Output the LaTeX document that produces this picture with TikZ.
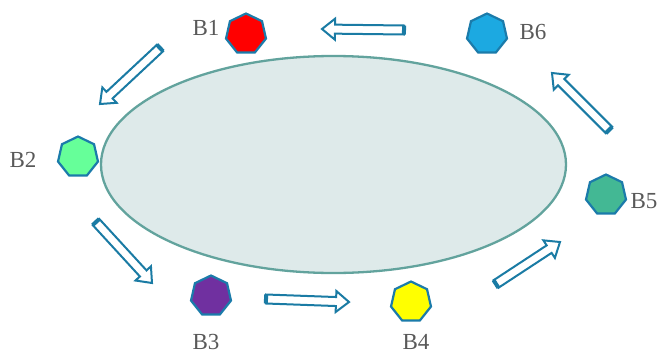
\documentclass[tikz,border=0pt]{standalone}
\usepackage{fontspec}
\setmainfont{Liberation Serif}
\usetikzlibrary{shapes.geometric,calc}
\definecolor{rimblue}{HTML}{1B7BAA}
\definecolor{arrowblue}{HTML}{1A7BA4}
\definecolor{poolfill}{HTML}{DEEAEA}
\definecolor{poolline}{HTML}{62A39D}
\definecolor{labelgray}{HTML}{595959}
\definecolor{bred}{HTML}{FF0000}
\definecolor{bgreen}{HTML}{66FF99}
\definecolor{bpurple}{HTML}{7030A0}
\definecolor{byellow}{HTML}{FFFF00}
\definecolor{bteal}{HTML}{43B894}
\definecolor{bblue}{HTML}{1CA9E1}
\tikzset{
  hepta/.style={regular polygon, regular polygon sides=7, minimum size=41pt,
    inner sep=0pt, draw=rimblue, line width=2.2pt},
  blabel/.style={text=labelgray, font=\fontsize{23}{26}\selectfont, inner sep=0pt},
  blockarrow/.style={draw=arrowblue, line width=2pt, fill=white, line join=miter},
  tailedge/.style={draw=arrowblue, line width=4pt}
}
% hollow block arrow from tail #1 to tip #2
\newcommand\hollowarrow[2]{%
  \coordinate (hb) at ($(#2)!13pt!(#1)$);
  \path[blockarrow]
    ($(#1)!4.5pt!90:(#2)$) -- ($(hb)!4.5pt!-90:(#1)$) -- ($(hb)!10.5pt!-90:(#1)$)
    -- (#2) -- ($(hb)!10.5pt!90:(#1)$) -- ($(hb)!4.5pt!90:(#1)$)
    -- ($(#1)!4.5pt!-90:(#2)$) -- cycle;
  \draw[tailedge] ($(#1)!4.5pt!90:(#2)$) -- ($(#1)!4.5pt!-90:(#2)$);
}
\begin{document}
\begin{tikzpicture}[x=1pt,y=-1pt]
\useasboundingbox (0,0) rectangle (670,354);
% central pool
\node[ellipse, draw=poolline, fill=poolfill, line width=2.3pt,
  minimum width=465pt, minimum height=217pt, inner sep=0pt] (pool) at (333.5,164.5) {};
% stations
\node[hepta, fill=bred]    (b1) at (246,34)  {};
\node[hepta, fill=bgreen]  (b2) at (78,157)  {};
\node[hepta, fill=bpurple] (b3) at (211,296) {};
\node[hepta, fill=byellow] (b4) at (411,302) {};
\node[hepta, fill=bteal]   (b5) at (606,195) {};
\node[hepta, fill=bblue]   (b6) at (487,34)  {};
% labels
\node[blabel] (l1) at (206,28)  {B1};
\node[blabel] (l2) at (23,160)  {B2};
\node[blabel] (l3) at (206,342) {B3};
\node[blabel] (l4) at (416,342) {B4};
\node[blabel] (l5) at (644,201) {B5};
\node[blabel] (l6) at (533,32)  {B6};
% arrow ends
\coordinate (a61) at (404,30);  \coordinate (a61t) at (322,29);
\coordinate (a12) at (160,48);  \coordinate (a12t) at (100,104);
\coordinate (a23) at (96,222);  \coordinate (a23t) at (152,283);
\coordinate (a34) at (266,299); \coordinate (a34t) at (349,302);
\coordinate (a45) at (496,284); \coordinate (a45t) at (560,242);
\coordinate (a56) at (609,130); \coordinate (a56t) at (552,73);
\hollowarrow{a61}{a61t}
\hollowarrow{a12}{a12t}
\hollowarrow{a23}{a23t}
\hollowarrow{a34}{a34t}
\hollowarrow{a45}{a45t}
\hollowarrow{a56}{a56t}
\end{tikzpicture}
\end{document}
